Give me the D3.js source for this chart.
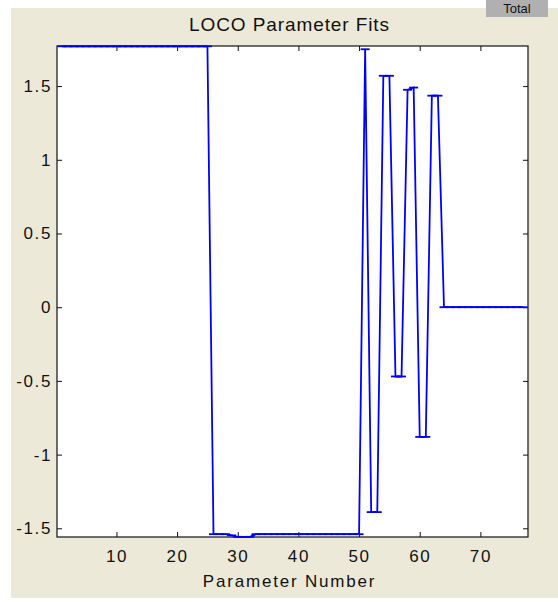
<!DOCTYPE html>
<html>
<head>
<meta charset="utf-8">
<script src="https://cdn.jsdelivr.net/npm/d3@7"></script>
<style>
  html, body { margin: 0; padding: 0; background: #fff; }
  svg { display: block; }
  text { font-family: "Liberation Sans", Arial, sans-serif; fill: #111; }
</style>
</head>
<body>
<svg id="chart" width="558" height="602"></svg>
<script>
// fitted value for each parameter, parameter number = index + 1
var fitValues = [
  1.77, 1.77, 1.77, 1.77, 1.77, 1.77, 1.77, 1.77, 1.77, 1.77,
  1.77, 1.77, 1.77, 1.77, 1.77, 1.77, 1.77, 1.77, 1.77, 1.77,
  1.77, 1.77, 1.77, 1.77, 1.77, -1.54, -1.54, -1.54, -1.548, -1.558,
  -1.558, -1.558, -1.54, -1.54, -1.54, -1.54, -1.54, -1.54, -1.54, -1.54,
  -1.54, -1.54, -1.54, -1.54, -1.54, -1.54, -1.54, -1.54, -1.54, -1.54,
  1.75, -1.39, -1.39, 1.57, 1.57, -0.47, -0.47, 1.475, 1.49, -0.88,
  -0.88, 1.435, 1.435, 0, 0, 0, 0, 0, 0, 0,
  0, 0, 0, 0, 0, 0, 0
];

var xTicks = [10, 20, 30, 40, 50, 60, 70];
var yTicks = [-1.5, -1, -0.5, 0, 0.5, 1, 1.5];
var xDomain = [0.2, 77.85];
var yDomain = [-1.559, 1.772];

var titleText = 'LOCO Parameter Fits';
var xLabelText = 'Parameter Number';
var cornerText = 'Total';

//============================================================
// Layout
//------------------------------------------------------------
var svg = d3.select('#chart');
var margin = { top: 46, left: 57 },
  width = 471,
  height = 491,
  capHalf = 4.5,
  tickLen = 5;

// figure background
svg.append('rect')
  .attr('x', 11).attr('y', 8)
  .attr('width', 547).attr('height', 590)
  .attr('fill', '#ece9d8');

// the toolbar button in the corner
svg.append('rect')
  .attr('x', 486).attr('y', 0)
  .attr('width', 62).attr('height', 17)
  .attr('fill', '#b0b0b0');
svg.append('text')
  .attr('x', 517).attr('y', 13)
  .attr('text-anchor', 'middle')
  .attr('font-size', 13)
  .text(cornerText);

var g = svg.append('g')
  .attr('transform', 'translate(' + margin.left + ',' + margin.top + ')');

g.append('rect')
  .attr('width', width).attr('height', height)
  .attr('fill', '#fff');

//============================================================
// Scales and axes
//------------------------------------------------------------
var x = d3.scaleLinear().domain(xDomain).range([0, width]);
var y = d3.scaleLinear().domain(yDomain).range([height, 0]);

function styleAxis(sel) {
  sel.select('.domain').remove();
  sel.selectAll('.tick line').attr('stroke', '#111');
  sel.selectAll('.tick text')
    .attr('font-size', 17)
    .attr('letter-spacing', '1.6px')
    .attr('fill', '#111');
}

g.append('g')
  .attr('transform', 'translate(0,' + height + ')')
  .call(d3.axisBottom(x).tickValues(xTicks).tickSize(-tickLen).tickPadding(13)
    .tickFormat(d3.format('d')))
  .call(styleAxis);

g.append('g')
  .call(d3.axisTop(x).tickValues(xTicks).tickSize(-tickLen).tickFormat(''))
  .call(styleAxis);

g.append('g')
  .call(d3.axisLeft(y).tickValues(yTicks).tickSize(-tickLen).tickPadding(5)
    .tickFormat(function(d) { return String(d); }))
  .call(styleAxis);

g.append('g')
  .attr('transform', 'translate(' + width + ',0)')
  .call(d3.axisRight(y).tickValues(yTicks).tickSize(-tickLen).tickFormat(''))
  .call(styleAxis);

// axes box
g.append('rect')
  .attr('x', 0).attr('y', 0)
  .attr('width', width).attr('height', height)
  .attr('fill', 'none')
  .attr('stroke', '#111')
  .attr('stroke-width', 1.2);

//============================================================
// Data line with error bar caps
//------------------------------------------------------------
var line = d3.line()
  .x(function(d, i) { return x(i + 1); })
  .y(function(d) { return y(d); });

g.append('path')
  .datum(fitValues)
  .attr('d', line)
  .attr('fill', 'none')
  .attr('stroke', '#0000ff')
  .attr('stroke-width', 1.8);

g.append('g').selectAll('line')
  .data(fitValues)
  .enter().append('line')
  .attr('x1', function(d, i) { return x(i + 1) - capHalf; })
  .attr('x2', function(d, i) { return x(i + 1) + capHalf; })
  .attr('y1', function(d) { return y(d); })
  .attr('y2', function(d) { return y(d); })
  .attr('stroke', '#0000ff')
  .attr('stroke-width', 1.8);

//============================================================
// Labels
//------------------------------------------------------------
svg.append('text')
  .attr('x', margin.left + width / 2 - 3)
  .attr('y', 31)
  .attr('text-anchor', 'middle')
  .attr('font-size', 19)
  .attr('letter-spacing', '0.9px')
  .text(titleText);

svg.append('text')
  .attr('x', margin.left + width / 2 - 3)
  .attr('y', 587)
  .attr('text-anchor', 'middle')
  .attr('font-size', 17)
  .attr('letter-spacing', '1.8px')
  .text(xLabelText);
</script>
</body>
</html>
